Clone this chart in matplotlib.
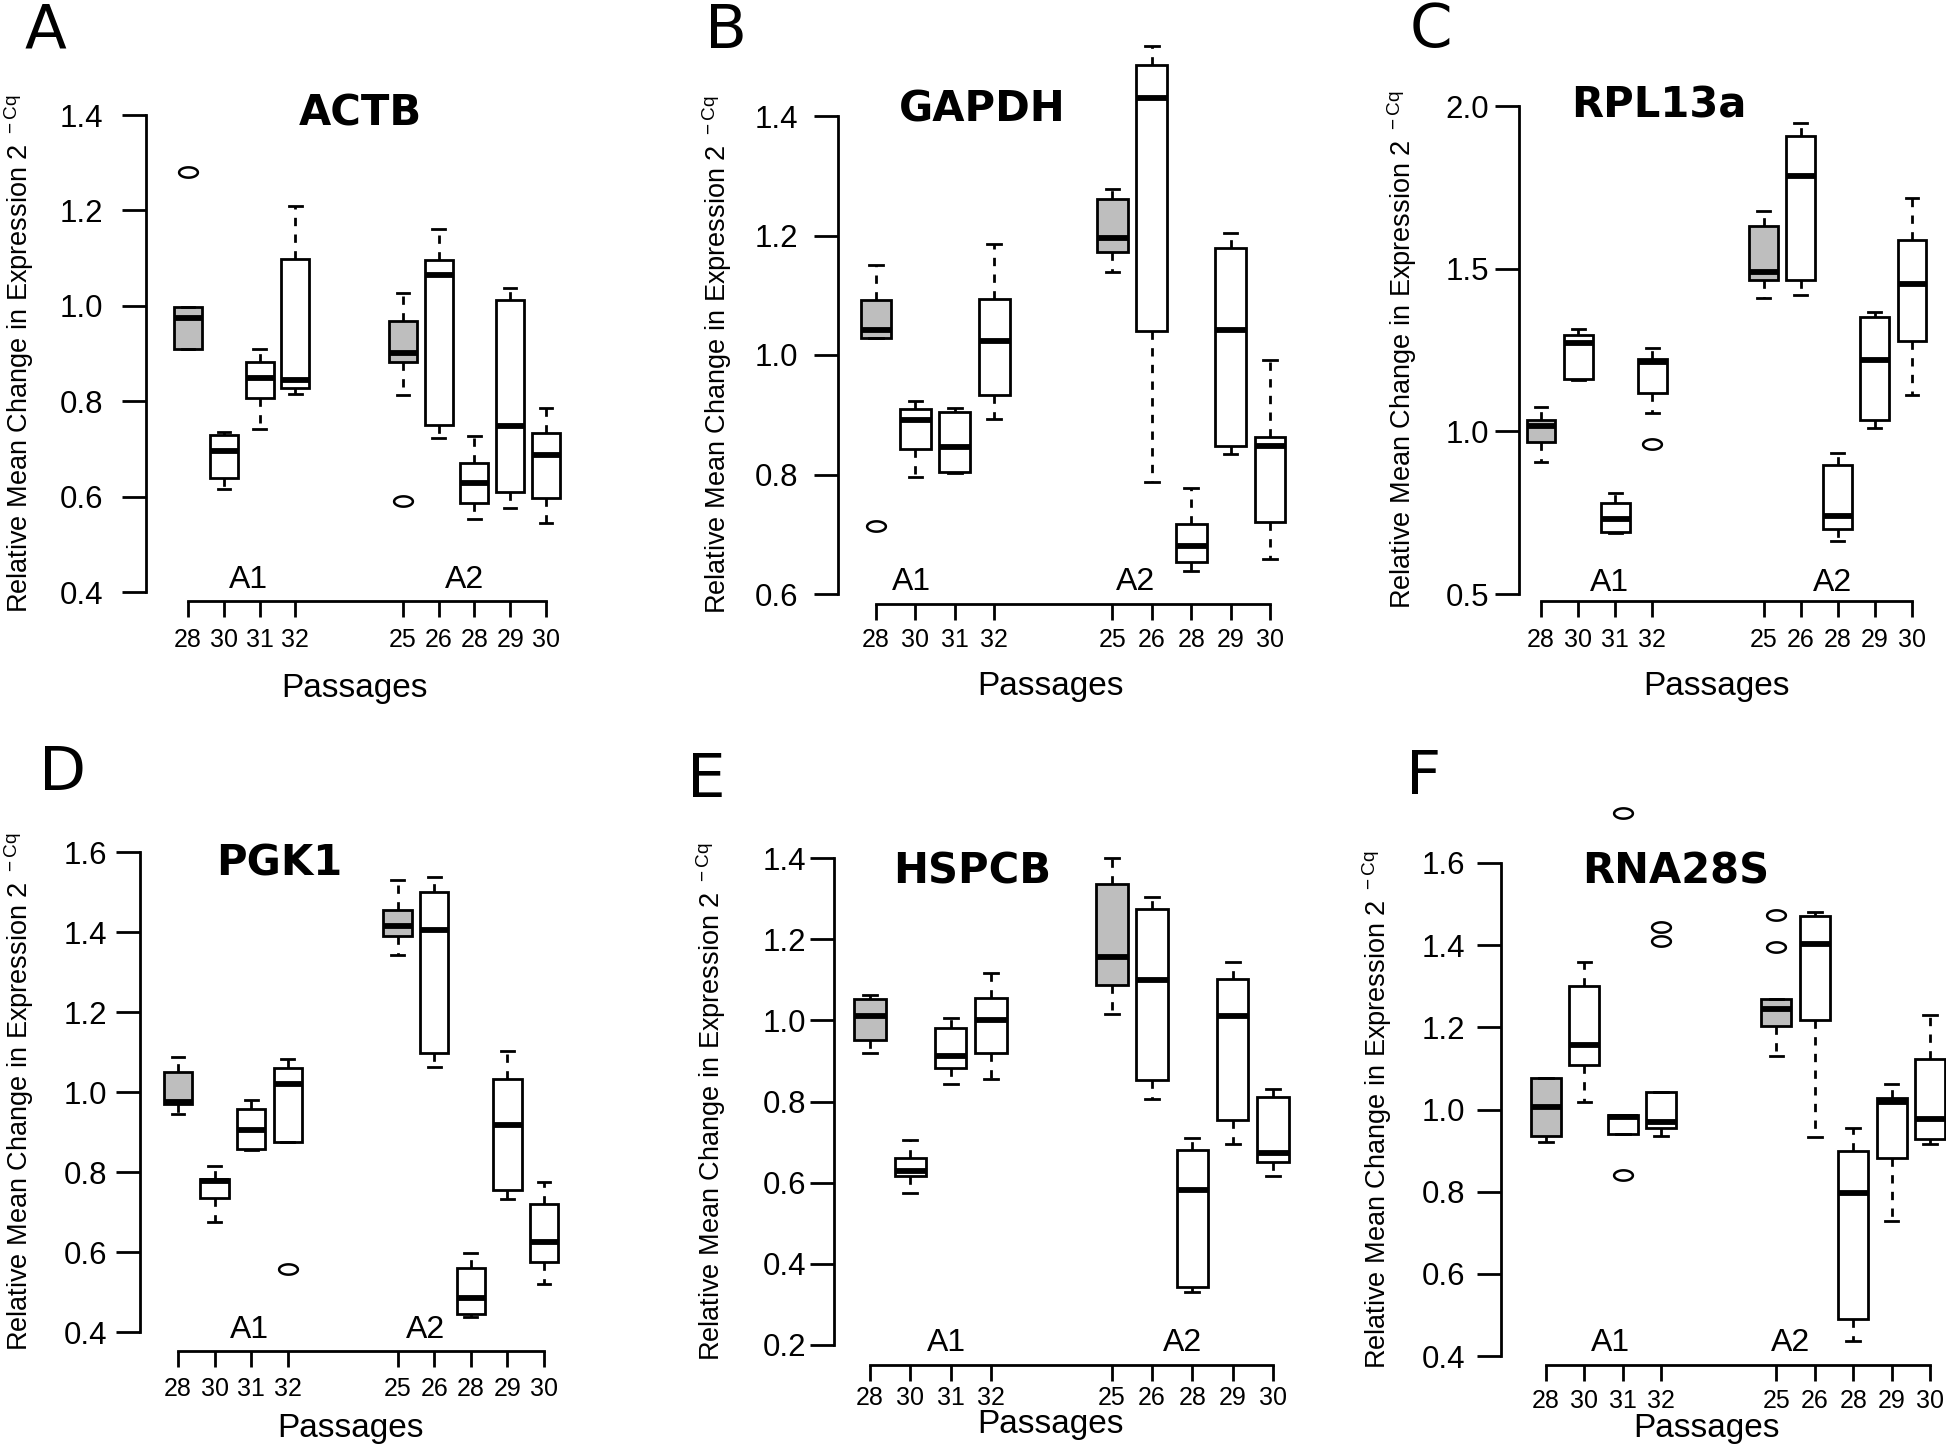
import numpy as np
import matplotlib
matplotlib.use("Agg")
import matplotlib.pyplot as plt
from matplotlib.path import Path

W, H = 1946, 1445

passages = ["28", "30", "31", "32", "25", "26", "28", "29", "30"]
groups = ["A1", "A2"]

# each gene: whisker low, q1, median, q3, whisker high, outliers (one list per box)
actb_lo = [0.910, 0.615, 0.741, 0.815, 0.814, 0.722, 0.552, 0.577, 0.545]
actb_q1 = [0.910, 0.640, 0.806, 0.827, 0.883, 0.751, 0.586, 0.610, 0.598]
actb_med = [0.975, 0.695, 0.849, 0.844, 0.902, 1.064, 0.629, 0.748, 0.688]
actb_q3 = [0.997, 0.729, 0.882, 1.099, 0.969, 1.095, 0.671, 1.012, 0.733]
actb_hi = [0.997, 0.736, 0.909, 1.210, 1.026, 1.161, 0.728, 1.038, 0.785]
actb_out = [[1.281], [], [], [], [0.590], [], [], [], []]

gapdh_lo = [1.029, 0.795, 0.803, 0.893, 1.139, 0.788, 0.639, 0.834, 0.658]
gapdh_q1 = [1.029, 0.842, 0.805, 0.933, 1.173, 1.040, 0.654, 0.847, 0.720]
gapdh_med = [1.042, 0.892, 0.846, 1.023, 1.195, 1.430, 0.680, 1.042, 0.847]
gapdh_q3 = [1.092, 0.910, 0.905, 1.093, 1.261, 1.486, 0.717, 1.179, 0.863]
gapdh_hi = [1.151, 0.923, 0.911, 1.185, 1.278, 1.517, 0.778, 1.205, 0.991]
gapdh_out = [[0.714], [], [], [], [], [], [], [], []]

rpl_lo = [0.906, 1.158, 0.688, 1.055, 1.410, 1.420, 0.663, 1.009, 1.111]
rpl_q1 = [0.967, 1.162, 0.691, 1.118, 1.465, 1.465, 0.701, 1.034, 1.278]
rpl_med = [1.017, 1.271, 0.731, 1.212, 1.491, 1.785, 0.741, 1.219, 1.452]
rpl_q3 = [1.035, 1.295, 0.780, 1.222, 1.632, 1.908, 0.896, 1.352, 1.587]
rpl_hi = [1.076, 1.314, 0.809, 1.257, 1.677, 1.948, 0.934, 1.367, 1.717]
rpl_out = [[], [], [], [0.960], [], [], [], [], []]

pgk_lo = [0.944, 0.674, 0.854, 0.874, 1.342, 1.062, 0.438, 0.732, 0.520]
pgk_q1 = [0.970, 0.735, 0.857, 0.874, 1.391, 1.097, 0.444, 0.754, 0.574]
pgk_med = [0.976, 0.777, 0.906, 1.019, 1.414, 1.405, 0.485, 0.918, 0.626]
pgk_q3 = [1.051, 0.783, 0.958, 1.060, 1.455, 1.499, 0.560, 1.033, 0.719]
pgk_hi = [1.087, 0.814, 0.981, 1.083, 1.530, 1.538, 0.597, 1.103, 0.775]
pgk_out = [[], [], [], [0.557], [], [], [], [], []]

hsp_lo = [0.919, 0.575, 0.842, 0.856, 1.016, 0.805, 0.330, 0.696, 0.616]
hsp_q1 = [0.951, 0.616, 0.882, 0.920, 1.086, 0.853, 0.343, 0.754, 0.650]
hsp_med = [1.011, 0.628, 0.913, 1.002, 1.157, 1.100, 0.582, 1.011, 0.673]
hsp_q3 = [1.052, 0.662, 0.982, 1.056, 1.335, 1.275, 0.681, 1.102, 0.810]
hsp_hi = [1.063, 0.704, 1.005, 1.117, 1.400, 1.303, 0.710, 1.143, 0.830]
hsp_out = [[], [], [], [], [], [], [], [], []]

rna_lo = [0.921, 1.018, 0.941, 0.935, 1.131, 0.933, 0.437, 0.729, 0.916]
rna_q1 = [0.935, 1.108, 0.941, 0.954, 1.204, 1.218, 0.491, 0.882, 0.927]
rna_med = [1.005, 1.156, 0.982, 0.969, 1.244, 1.404, 0.797, 1.018, 0.977]
rna_q3 = [1.076, 1.300, 0.986, 1.042, 1.269, 1.472, 0.898, 1.028, 1.124]
rna_hi = [1.076, 1.359, 0.986, 1.042, 1.269, 1.481, 0.955, 1.063, 1.229]
rna_out = [[], [], [0.841, 1.721], [1.444, 1.410], [1.474, 1.395], [], [], [], []]

positions = [1, 2, 3, 4, 7, 8, 9, 10, 11]

plt.rcParams['font.family'] = ['Liberation Sans', 'DejaVu Sans']

# gene, letter, stats, y ticks, layout in pixels of the reference
panels = [
    dict(gene="ACTB", letter="A", st=(actb_lo, actb_q1, actb_med, actb_q3, actb_hi, actb_out),
         yt=[0.4, 0.6, 0.8, 1.0, 1.2, 1.4], yax=146, p1=188, p11=546, top=115, bot=592, xoff=9,
         title=(360, 113), let=(45, 31), pas=(354, 689), ylx=19, gx=(2.69, 8.73), gy=580,
         xpad=10.6, ypad=19),
    dict(gene="GAPDH", letter="B", st=(gapdh_lo, gapdh_q1, gapdh_med, gapdh_q3, gapdh_hi, gapdh_out),
         yt=[0.6, 0.8, 1.0, 1.2, 1.4], yax=838, p1=876, p11=1270, top=116, bot=594, xoff=10,
         title=(982, 110), let=(726, 31), pas=(1051, 687), ylx=717, gx=(1.91, 7.6), gy=582,
         xpad=7.6, ypad=16),
    dict(gene="RPL13a", letter="C", st=(rpl_lo, rpl_q1, rpl_med, rpl_q3, rpl_hi, rpl_out),
         yt=[0.5, 1.0, 1.5, 2.0], yax=1519, p1=1541, p11=1912, top=106, bot=594, xoff=7,
         title=(1659, 106), let=(1431, 31), pas=(1717, 687), ylx=1402, gx=(2.84, 8.86), gy=583,
         xpad=10.6, ypad=6),
    dict(gene="PGK1", letter="D", st=(pgk_lo, pgk_q1, pgk_med, pgk_q3, pgk_hi, pgk_out),
         yt=[0.4, 0.6, 0.8, 1.0, 1.2, 1.4, 1.6], yax=140, p1=178, p11=544, top=852, bot=1332, xoff=19,
         title=(279, 864), let=(63, 773), pas=(350, 1429), ylx=19, gx=(2.96, 7.77), gy=1330,
         xpad=9.6, ypad=9),
    dict(gene="HSPCB", letter="E", st=(hsp_lo, hsp_q1, hsp_med, hsp_q3, hsp_hi, hsp_out),
         yt=[0.2, 0.4, 0.6, 0.8, 1.0, 1.2, 1.4], yax=834, p1=870, p11=1273, top=858, bot=1345, xoff=20,
         title=(972, 871), let=(706, 780), pas=(1050, 1424), ylx=711, gx=(2.89, 8.76), gy=1343,
         xpad=4.6, ypad=4),
    dict(gene="RNA28S", letter="F", st=(rna_lo, rna_q1, rna_med, rna_q3, rna_hi, rna_out),
         yt=[0.4, 0.6, 0.8, 1.0, 1.2, 1.4, 1.6], yax=1501, p1=1546, p11=1930, top=863, bot=1356, xoff=9,
         title=(1676, 871), let=(1424, 778), pas=(1707, 1429), ylx=1377, gx=(2.67, 7.36), gy=1343,
         xpad=7.6, ypad=12),
]

PT = 72 / 100  # pixels -> points at dpi 100
LW = 2.0

t = np.linspace(0, 2 * np.pi, 61)
ellipse = Path(np.column_stack([np.cos(t), 0.55 * np.sin(t)]), closed=True)

fig = plt.figure(figsize=(W / 100, H / 100), dpi=100)

for p in panels:
    s = (p["p11"] - p["p1"]) / 10
    right = p["p11"] + 0.7 * s
    ax = fig.add_axes([p["yax"] / W, 1 - p["bot"] / H, (right - p["yax"]) / W, (p["bot"] - p["top"]) / H])
    ax.patch.set_alpha(0)
    lo, hi = p["yt"][0], p["yt"][-1]
    ax.set_xlim(1 - (p["p1"] - p["yax"]) / s, 11.7)
    ax.set_ylim(lo, hi)

    wlo, q1, med, q3, whi, out = p["st"]
    stats = [dict(whislo=a, q1=b, med=c, q3=d, whishi=e, fliers=f)
             for a, b, c, d, e, f in zip(wlo, q1, med, q3, whi, out)]
    res = ax.bxp(stats, positions=positions, widths=0.78, capwidths=0.35,
                 patch_artist=True, showfliers=True,
                 boxprops=dict(linewidth=LW, edgecolor="black"),
                 whiskerprops=dict(linewidth=LW, linestyle=(0, (3, 3)), color="black"),
                 capprops=dict(linewidth=LW, color="black"),
                 medianprops=dict(linewidth=4.2, color="black", solid_capstyle="butt"),
                 flierprops=dict(marker=ellipse, markersize=13.5, markerfacecolor="none",
                                 markeredgecolor="black", markeredgewidth=1.8, linestyle="none"))
    for i, b in enumerate(res["boxes"]):
        b.set_facecolor("#bebebe" if i in (0, 4) else "white")
    for key in res:
        for art in res[key]:
            art.set_clip_on(False)

    for side in ("top", "right"):
        ax.spines[side].set_visible(False)
    ax.spines["left"].set_bounds(lo, hi)
    ax.spines["left"].set_linewidth(LW)
    ax.spines["bottom"].set_bounds(1, 11)
    ax.spines["bottom"].set_linewidth(LW)
    ax.spines["bottom"].set_position(("outward", p["xoff"] * PT))

    ax.set_yticks(p["yt"])
    ax.set_yticklabels(["%.1f" % v for v in p["yt"]])
    ax.set_xticks(positions)
    ax.set_xticklabels(passages)
    ax.tick_params(axis="y", length=24 * PT, width=LW, pad=p["ypad"] * PT, labelsize=22.5)
    ax.tick_params(axis="x", length=16 * PT, width=LW, pad=p["xpad"] * PT, labelsize=18)

    for g, gx in zip(groups, p["gx"]):
        gy = lo + (p["bot"] - p["gy"]) / (p["bot"] - p["top"]) * (hi - lo)
        ax.text(gx, gy, g, ha="center", va="center", fontsize=23, clip_on=False)

    fig.text(p["title"][0] / W, 1 - p["title"][1] / H, p["gene"], ha="center", va="center",
             fontsize=30, fontweight="bold", family="DejaVu Sans")
    fig.text(p["let"][0] / W, 1 - p["let"][1] / H, p["letter"], ha="center", va="center",
             fontsize=44, family="DejaVu Sans")
    fig.text(p["pas"][0] / W, 1 - p["pas"][1] / H, "Passages", ha="center", va="center", fontsize=24)
    fig.text(p["ylx"] / W, 1 - (p["top"] + p["bot"]) / 2 / H,
             r"Relative Mean Change in Expression 2$^{\mathregular{\ -Cq}}$",
             ha="center", va="center", rotation=90, fontsize=19.5)

fig.savefig("out.png", dpi=100, facecolor="white")
